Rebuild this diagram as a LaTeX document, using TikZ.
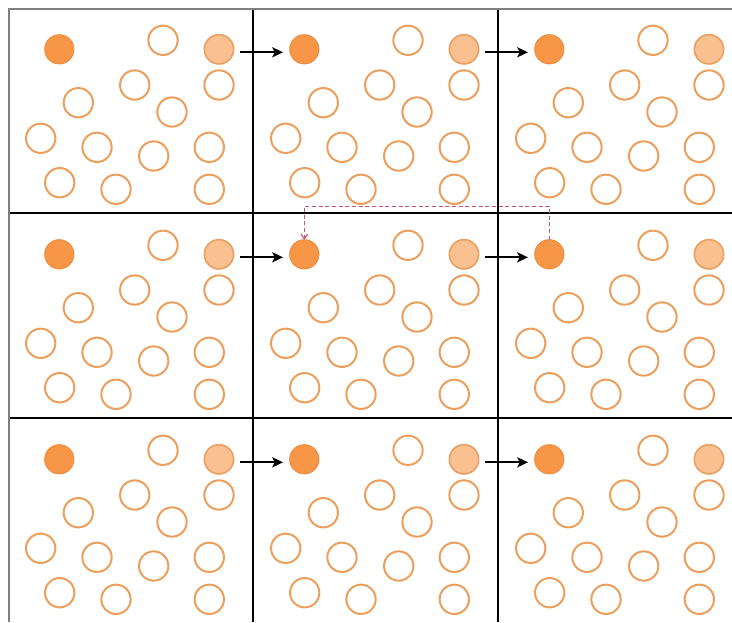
\documentclass[tikz,border=0pt]{standalone}
\usetikzlibrary{arrows.meta}
\definecolor{darkor}{HTML}{F79646}
\definecolor{darkorline}{HTML}{EE8A3A}
\definecolor{lightor}{HTML}{FAC090}
\definecolor{lightorline}{HTML}{E9A060}
\definecolor{openor}{HTML}{EC9F5C}
\definecolor{dashred}{RGB}{205,80,110}
\definecolor{framegray}{HTML}{7F7F7F}
\tikzset{
  dotbase/.style={circle,minimum size=22pt,inner sep=0pt,outer sep=0pt},
  darkdot/.style={dotbase,fill=darkor,draw=darkorline,line width=0.6pt},
  lightdot/.style={dotbase,fill=lightor,draw=lightorline,line width=1.2pt},
  opendot/.style={dotbase,draw=openor,fill=white,line width=1.5pt},
  gridline/.style={black,line width=0.8pt},
  frameline/.style={framegray,line width=1.3pt},
  focusbox/.style={black,line width=1.8pt},
  movearrow/.style={black,line width=1.6pt,-{Stealth[length=8pt,width=7.5pt,inset=1.8pt]}},
  jumparrow/.style={dashred,line width=0.8pt,dash pattern=on 3pt off 2pt,-{Straight Barb[length=3.5pt,width=5pt]}}
}
\begin{document}
\begin{tikzpicture}[x=0.75pt,y=-0.75pt]
\useasboundingbox (0,0) rectangle (732,622);
\fill[white] (0,0) rectangle (732,622);
% grid
\draw[gridline] (253,9) -- (253,622);
\draw[gridline] (498,9) -- (498,622);
\draw[gridline] (9,213) -- (732,213);
\draw[gridline] (9,418) -- (732,418);
\draw[frameline] (732,9) -- (9,9) -- (9,622);
\draw[focusbox] (253,213) rectangle (498,418);
% dots
\foreach \r/\oy in {1/0,2/205,3/410}{
  \foreach \c/\ox in {1/0,2/245,3/490}{
    \node[darkdot] (dk-\r-\c) at ({59.3+\ox},{49.3+\oy}) {};
    \node[lightdot] (lt-\r-\c) at ({219+\ox},{49.3+\oy}) {};
    \foreach \px/\py [count=\i] in {163/40.3,134.7/85,219/85,78.3/102.7,172/112,40.7/138.3,97/147.3,153.7/156,209.3/147.3,59.7/182.7,116/189.3,209.3/189.3}{
      \node[opendot] (o-\r-\c-\i) at ({\px+\ox},{\py+\oy}) {};
    }
  }
}
% arrows
\foreach \r in {1,2,3}{
  \foreach \c/\n in {1/2,2/3}{
    \draw[movearrow,shorten <=4.5pt,shorten >=5pt] ([yshift=-2.25pt]lt-\r-\c.east) -- ([yshift=-2.25pt]dk-\r-\n.west);
  }
}
\coordinate (jumpturn) at ([yshift=25pt]dk-2-3.north);
\draw[jumparrow] (dk-2-3.north) -- (jumpturn) -| (dk-2-2.north);
\end{tikzpicture}
\end{document}
